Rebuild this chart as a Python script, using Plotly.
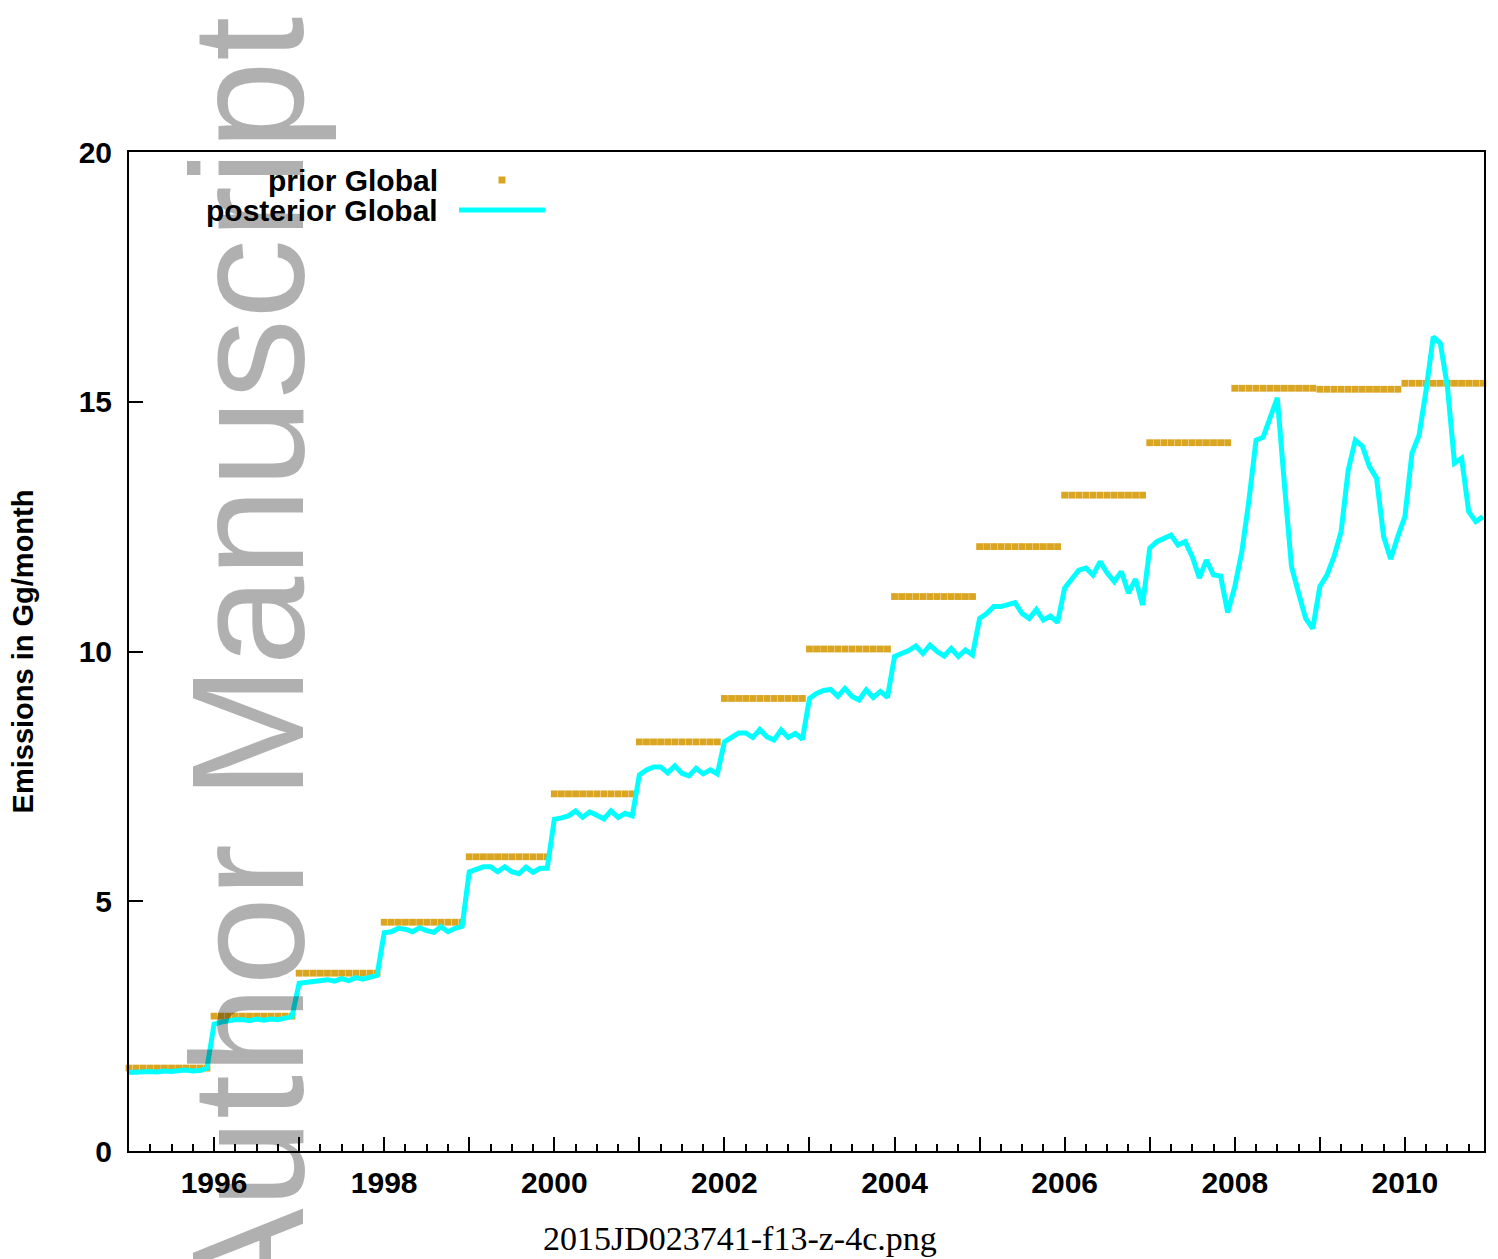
import plotly.graph_objects as go

# Annual prior emission estimates (Gg/month), one value per year 1995-2010
years = list(range(1995, 2011))
prior_annual = [1.66, 2.70, 3.56, 4.58, 5.89, 7.15, 8.19, 9.06,
                10.05, 11.10, 12.10, 13.13, 14.18, 15.27, 15.25, 15.37]

# Monthly posterior emissions (Gg/month), Jan..Dec for each year
post_1995 = [1.57, 1.58, 1.58, 1.59, 1.58, 1.60, 1.59, 1.60, 1.62, 1.60, 1.61, 1.66]
post_1996 = [2.54, 2.58, 2.61, 2.63, 2.63, 2.61, 2.64, 2.62, 2.64, 2.63, 2.66, 2.69]
post_1997 = [3.36, 3.38, 3.39, 3.40, 3.43, 3.40, 3.45, 3.41, 3.47, 3.44, 3.48, 3.52]
post_1998 = [4.37, 4.39, 4.46, 4.44, 4.39, 4.47, 4.41, 4.38, 4.49, 4.39, 4.46, 4.50]
post_1999 = [5.59, 5.63, 5.69, 5.69, 5.59, 5.69, 5.59, 5.55, 5.68, 5.58, 5.66, 5.66]
post_2000 = [6.64, 6.67, 6.71, 6.81, 6.68, 6.79, 6.73, 6.65, 6.81, 6.68, 6.76, 6.71]
post_2001 = [7.53, 7.63, 7.69, 7.69, 7.57, 7.71, 7.56, 7.51, 7.66, 7.55, 7.63, 7.55]
post_2002 = [8.19, 8.28, 8.37, 8.37, 8.28, 8.44, 8.29, 8.23, 8.43, 8.28, 8.36, 8.24]
post_2003 = [9.06, 9.16, 9.22, 9.24, 9.10, 9.26, 9.10, 9.03, 9.23, 9.08, 9.20, 9.08]
post_2004 = [9.90, 9.96, 10.02, 10.11, 9.96, 10.13, 10.00, 9.91, 10.06, 9.90, 10.03, 9.93]
post_2005 = [10.66, 10.76, 10.90, 10.90, 10.95, 10.98, 10.76, 10.66, 10.84, 10.63, 10.71, 10.58]
post_2006 = [11.27, 11.47, 11.63, 11.67, 11.53, 11.80, 11.57, 11.40, 11.60, 11.17, 11.45, 10.93]
post_2007 = [12.07, 12.20, 12.26, 12.33, 12.13, 12.20, 11.90, 11.47, 11.83, 11.53, 11.51, 10.78]
post_2008 = [11.30, 12.00, 13.03, 14.23, 14.29, 14.72, 15.08, 13.35, 11.70, 11.17, 10.66, 10.46]
post_2009 = [11.30, 11.53, 11.90, 12.40, 13.63, 14.23, 14.11, 13.70, 13.47, 12.30, 11.85, 12.30]
post_2010 = [12.70, 13.97, 14.33, 15.24, 16.30, 16.17, 15.30, 13.77, 13.87, 12.80, 12.60, 12.70]

posterior_by_year = [post_1995, post_1996, post_1997, post_1998, post_1999, post_2000,
                     post_2001, post_2002, post_2003, post_2004, post_2005, post_2006,
                     post_2007, post_2008, post_2009, post_2010]

# Monthly time axis in decimal years
t = [y + m / 12 for y in years for m in range(12)]
prior = [v for v in prior_annual for _ in range(12)]
posterior = [v for row in posterior_by_year for v in row]

major_years = years
major_text = [str(y) if y % 2 == 0 else "" for y in years]

GOLD = "#DAA520"
CYAN = "#00FFFF"
W, H = 1498, 1259
L, R, T, B = 129, 14, 152, 108
PW, PH = W - L - R, H - T - B


def px(x):
    return (x - L) / PW


def py(y):
    return (H - B - y) / PH


fig = go.Figure()
fig.add_trace(go.Scatter(
    x=t, y=prior, mode="markers", name="prior Global",
    marker=dict(symbol="square", size=6.8, color=GOLD, line=dict(width=0)),
    cliponaxis=False, showlegend=False,
))
fig.add_trace(go.Scatter(
    x=t, y=posterior, mode="lines", name="posterior Global",
    line=dict(color=CYAN, width=5),
    showlegend=False,
))

tickfont = dict(family="Liberation Sans", size=30, color="black", weight="bold")

fig.update_layout(
    width=W, height=H,
    margin=dict(l=L, r=R, t=T, b=B, pad=0),
    paper_bgcolor="white", plot_bgcolor="white",
    xaxis=dict(
        range=[1995, 2010.93], showgrid=False, zeroline=False,
        showline=True, linecolor="black", linewidth=2, mirror=True,
        tickmode="array", tickvals=major_years, ticktext=major_text,
        ticks="inside", ticklen=14, tickwidth=1.5, tickcolor="black",
        tickfont=tickfont, ticklabelstandoff=4,
        minor=dict(tickmode="linear", tick0=1995, dtick=0.25,
                   ticks="inside", ticklen=7, tickwidth=1.5, tickcolor="black"),
    ),
    yaxis=dict(
        range=[0, 20], showgrid=False, zeroline=False,
        showline=True, linecolor="black", linewidth=2, mirror=True,
        tickvals=[0, 5, 10, 15, 20],
        ticks="inside", ticklen=14, tickwidth=1.5, tickcolor="black",
        tickfont=tickfont, ticklabelstandoff=9,
        title=dict(text="Emissions in Gg/month", standoff=36,
                   font=dict(family="Liberation Sans", size=29, color="black", weight="bold")),
    ),
)

# Key: right-aligned labels with samples to their right
legend_font = dict(family="Liberation Sans", size=30, color="black", weight="bold")
fig.add_annotation(text="prior Global", xref="paper", yref="paper",
                   x=px(440), y=py(180), xanchor="right", yanchor="middle",
                   showarrow=False, font=legend_font)
fig.add_annotation(text="posterior Global", xref="paper", yref="paper",
                   x=px(440), y=py(210), xanchor="right", yanchor="middle",
                   showarrow=False, font=legend_font)
fig.add_shape(type="rect", xref="paper", yref="paper",
              x0=px(498.5), x1=px(505.5), y0=py(183.5), y1=py(176.5),
              fillcolor=GOLD, line=dict(width=0))
fig.add_shape(type="line", xref="paper", yref="paper",
              x0=px(459), x1=px(545), y0=py(210), y1=py(210),
              line=dict(color=CYAN, width=5))

# Rotated watermark
fig.add_annotation(text="Author Manuscript", xref="paper", yref="paper",
                   x=px(247), y=py(666), xanchor="center", yanchor="middle",
                   textangle=-90, showarrow=False,
                   font=dict(family="Liberation Sans", size=160, color="rgba(0,0,0,0.31)"))

# File name caption
fig.add_annotation(text="2015JD023741-f13-z-4c.png", xref="paper", yref="paper",
                   x=px(740), y=py(1238), xanchor="center", yanchor="middle",
                   showarrow=False,
                   font=dict(family="Liberation Serif", size=34, color="black"))

fig.write_html("out.html")
